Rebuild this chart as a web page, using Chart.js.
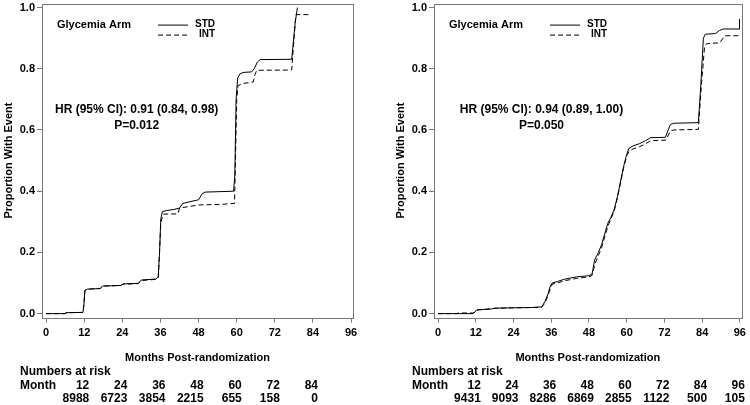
<!DOCTYPE html>
<html>
<head>
<meta charset="utf-8">
<script src="https://cdn.jsdelivr.net/npm/chart.js@4"></script>
<style>
  body { margin: 0; background: #fff; }
  .wrap { position: absolute; top: 0; width: 375px; height: 405px; overflow: hidden; }
  .wrap canvas { position: absolute; left: 0; top: -5px; }
</style>
</head>
<body>
<div class="wrap" style="left:0"><canvas id="left" width="375" height="410"></canvas></div>
<div class="wrap" style="left:375px"><canvas id="right" width="375" height="410"></canvas></div>
<script>
// ticks
const monthTicks = [0, 12, 24, 36, 48, 60, 72, 84, 96];
const propTicks = [0, 0.2, 0.4, 0.6, 0.8, 1.0];

// left panel, STD (solid)
const leftStdMonths = [0, 6, 6.2, 11.6, 11.9, 12.2, 13, 17, 17.8, 23.5, 24.2, 29, 30, 34.5, 35.3, 35.7, 36.1, 36.6, 38, 40, 42, 43, 45, 48, 49, 50, 59, 59.4, 59.8, 60.3, 61, 62, 64.7, 65.5, 66.5, 67.4, 77.3, 78.4, 79.1];
const leftStdProp   = [0, 0, 0.003, 0.004, 0.03, 0.076, 0.08, 0.082, 0.09, 0.092, 0.097, 0.099, 0.11, 0.113, 0.12, 0.2, 0.31, 0.333, 0.337, 0.34, 0.345, 0.36, 0.365, 0.372, 0.39, 0.397, 0.4, 0.45, 0.7, 0.77, 0.783, 0.788, 0.79, 0.8, 0.822, 0.83, 0.831, 0.95, 1.0];
// left panel, INT (dashed)
const leftIntMonths = [0, 6, 6.2, 11.6, 11.9, 12.2, 13, 17, 17.8, 23.5, 24.2, 29, 30, 34.5, 35.3, 35.7, 36.1, 36.9, 41.5, 42, 45, 48, 55, 59.3, 59.6, 60, 60.4, 62, 65.2, 65.7, 66.3, 77.3, 78.6, 83.1];
const leftIntProp   = [0, 0, 0.003, 0.004, 0.03, 0.076, 0.08, 0.082, 0.09, 0.092, 0.096, 0.098, 0.108, 0.112, 0.118, 0.2, 0.3, 0.325, 0.326, 0.345, 0.35, 0.355, 0.357, 0.36, 0.5, 0.7, 0.745, 0.752, 0.757, 0.78, 0.795, 0.796, 0.977, 0.977];

// right panel, STD (solid)
const rightStdMonths = [0, 11, 11.5, 12.3, 13, 17, 18, 24, 30, 33, 34, 35, 35.7, 36.3, 38, 40, 44, 48, 49, 49.8, 51, 52, 53, 54, 55, 56, 57, 58, 59, 60, 60.7, 62, 64, 66, 67.6, 72.3, 73.9, 75, 82.8, 83.6, 84.4, 85, 88.2, 89.5, 90.7, 95.9, 95.9];
const rightStdProp   = [0, 0, 0.003, 0.012, 0.013, 0.015, 0.018, 0.019, 0.02, 0.022, 0.04, 0.065, 0.09, 0.1, 0.105, 0.112, 0.12, 0.124, 0.13, 0.175, 0.2, 0.225, 0.26, 0.295, 0.315, 0.34, 0.38, 0.43, 0.48, 0.52, 0.54, 0.548, 0.555, 0.565, 0.575, 0.576, 0.618, 0.622, 0.624, 0.75, 0.9, 0.913, 0.915, 0.925, 0.93, 0.93, 0.963];
// right panel, INT (dashed)
const rightIntMonths = [0, 6, 6.5, 11, 11.5, 12.3, 13, 18, 24, 30, 33, 34, 35, 35.8, 36.4, 38, 40, 44, 48, 49, 50, 51, 52, 53, 54, 55, 56, 57, 58, 59, 60, 60.7, 62, 64, 66, 67.6, 72.5, 73.9, 75, 82.8, 83.8, 84.8, 85.5, 89.6, 91.2, 96];
const rightIntProp   = [0, 0, 0.002, 0.002, 0.004, 0.011, 0.012, 0.017, 0.019, 0.02, 0.021, 0.035, 0.06, 0.085, 0.097, 0.1, 0.107, 0.115, 0.12, 0.125, 0.165, 0.19, 0.215, 0.25, 0.285, 0.31, 0.335, 0.375, 0.425, 0.475, 0.515, 0.53, 0.538, 0.545, 0.555, 0.565, 0.567, 0.597, 0.6, 0.602, 0.75, 0.875, 0.882, 0.885, 0.908, 0.908];

// numbers at risk
const leftRiskMonths = [12, 24, 36, 48, 60, 72, 84];
const leftRiskCounts = [8988, 6723, 3854, 2215, 655, 158, 0];
const rightRiskMonths = [12, 24, 36, 48, 60, 72, 84, 96];
const rightRiskCounts = [9431, 9093, 8286, 6869, 2855, 1122, 500, 105];

const FONT = 'Liberation Sans, Arial, sans-serif';

function pts(xs, ys) {
  return xs.map((x, i) => ({ x: x, y: ys[i] }));
}

// frame, legend, HR text and the risk table
const decorPlugin = {
  id: 'decor',
  afterDraw(chart, args, opts) {
    const ctx = chart.ctx;
    const a = chart.chartArea;
    const xs = chart.scales.x, ys = chart.scales.y;
    ctx.save();
    ctx.strokeStyle = '#777';
    ctx.lineWidth = 1;
    ctx.strokeRect(Math.round(a.left) + 0.5, Math.round(a.top) + 0.5, Math.round(a.right - a.left), Math.round(a.bottom - a.top));

    ctx.fillStyle = '#000';
    ctx.textBaseline = 'middle';
    // legend
    ctx.font = 'bold 11px ' + FONT;
    ctx.textAlign = 'left';
    ctx.fillText('Glycemia Arm', a.left + 15, a.top + 21);
    ctx.strokeStyle = '#000';
    ctx.beginPath();
    ctx.moveTo(a.left + 116, a.top + 21.5);
    ctx.lineTo(a.left + 146, a.top + 21.5);
    ctx.stroke();
    ctx.setLineDash([5, 3]);
    ctx.beginPath();
    ctx.moveTo(a.left + 116, a.top + 31.5);
    ctx.lineTo(a.left + 146, a.top + 31.5);
    ctx.stroke();
    ctx.setLineDash([]);
    ctx.font = 'bold 10px ' + FONT;
    ctx.textAlign = 'right';
    ctx.fillText('STD', a.left + 173, a.top + 21);
    ctx.fillText('INT', a.left + 173, a.top + 31);

    // hazard ratio
    ctx.font = 'bold 12px ' + FONT;
    ctx.textAlign = 'center';
    const hx = xs.getPixelForValue(opts.hrMonth);
    ctx.fillText(opts.hr, hx, ys.getPixelForValue(0.665));
    ctx.fillText(opts.p, hx, ys.getPixelForValue(0.613));

    // numbers at risk
    const y0 = a.bottom;
    ctx.textAlign = 'left';
    ctx.fillText('Numbers at risk', a.left - 22, y0 + 54);
    ctx.fillText('Month', a.left - 22, y0 + 68);
    ctx.textAlign = 'right';
    opts.riskMonths.forEach((m, i) => {
      const px = xs.getPixelForValue(m) + 5;
      ctx.fillText(String(m), px, y0 + 68);
      ctx.fillText(String(opts.riskCounts[i]), px, y0 + 81);
    });
    ctx.restore();
  }
};

function makeChart(id, std, int, extra, padLeft, padRight) {
  const ctx = document.getElementById(id).getContext('2d');
  return new Chart(ctx, {
    type: 'line',
    data: {
      datasets: [
        {
          label: 'STD',
          data: std,
          borderColor: '#000',
          borderWidth: 1,
          pointRadius: 0,
          tension: 0
        },
        {
          label: 'INT',
          data: int,
          borderColor: '#000',
          borderWidth: 1,
          borderDash: [5, 3],
          pointRadius: 0,
          tension: 0
        }
      ]
    },
    options: {
      responsive: false,
      animation: false,
      layout: { padding: { left: padLeft, right: padRight, top: 0, bottom: 40 } },
      plugins: {
        legend: { display: false },
        tooltip: { enabled: false },
        decor: extra
      },
      scales: {
        x: {
          type: 'linear',
          min: -1.3,
          max: 96.6,
          afterBuildTicks: s => { s.ticks = monthTicks.map(v => ({ value: v })); },
          ticks: { color: '#000', font: { family: FONT, size: 11, weight: 'bold' }, padding: 4, maxRotation: 0 },
          grid: { drawOnChartArea: false, drawTicks: true, tickLength: 5, color: '#777' },
          border: { display: false },
          title: { display: true, text: 'Months Post-randomization', color: '#000', font: { family: FONT, size: 11, weight: 'bold' }, padding: { top: 8, bottom: 0 } }
        },
        y: {
          min: -0.013,
          max: 1.013,
          afterBuildTicks: s => { s.ticks = propTicks.map(v => ({ value: v })); },
          afterFit: s => { s.width = 42; },
          ticks: { color: '#000', font: { family: FONT, size: 11, weight: 'bold' }, padding: 2, callback: v => v.toFixed(1) },
          grid: { drawOnChartArea: false, drawTicks: true, tickLength: 5, color: '#777' },
          border: { display: false },
          title: { display: true, text: 'Proportion With Event', color: '#000', font: { family: FONT, size: 11, weight: 'bold' }, padding: { top: 2, bottom: 0 } }
        }
      }
    },
    plugins: [decorPlugin]
  });
}

makeChart('left', pts(leftStdMonths, leftStdProp), pts(leftIntMonths, leftIntProp), {
  hr: 'HR (95% CI): 0.91 (0.84, 0.98)', p: 'P=0.012', hrMonth: 28.5,
  riskMonths: leftRiskMonths, riskCounts: leftRiskCounts
}, 0, 22);

makeChart('right', pts(rightStdMonths, rightStdProp), pts(rightIntMonths, rightIntProp), {
  hr: 'HR (95% CI): 0.94 (0.89, 1.00)', p: 'P=0.050', hrMonth: 32.9,
  riskMonths: rightRiskMonths, riskCounts: rightRiskCounts
}, 17, 6);
</script>
</body>
</html>
